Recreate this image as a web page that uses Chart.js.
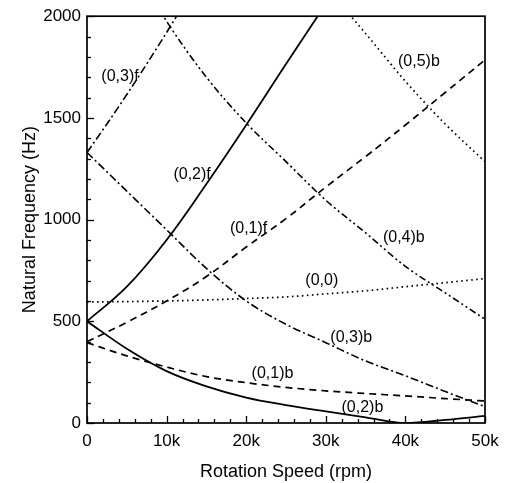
<!DOCTYPE html>
<html>
<head>
<meta charset="utf-8">
<script src="https://cdn.jsdelivr.net/npm/chart.js@4"></script>
<style>
html,body{margin:0;padding:0;background:#fff;}
#wrap{width:508px;height:483px;position:relative;}
</style>
</head>
<body>
<div id="wrap"><canvas id="c" width="508" height="483"></canvas></div>
<script>
// ---- data (rpm, Hz) ----
const rpmFull = [0, 5000, 10000, 15000, 20000, 25000, 30000, 35000, 40000, 45000, 50000];
const f02f_x = [0, 5000, 10000, 15000, 20000, 25000, 30000];
const f02f_y = [500, 670, 900, 1175, 1465, 1765, 2060];
const f02b_y = [500, 365, 255, 180, 125, 88, 57, 28, 0, 15, 35];
const f01f_y = [400, 495, 600, 720, 865, 1005, 1160, 1310, 1465, 1625, 1785];
const f01b_y = [395, 330, 275, 228, 198, 175, 158, 145, 133, 120, 108];
const f00_y  = [595, 597, 600, 605, 612, 620, 635, 650, 670, 690, 710];
const f03b_y = [1330, 1140, 950, 760, 600, 485, 395, 305, 232, 155, 80];
const f03f_x = [0, 2500, 5000, 7500, 10000, 12500];
const f03f_y = [1330, 1470, 1615, 1765, 1920, 2080];
const f04b_x = [7500, 10000, 15000, 20000, 25000, 30000, 35000, 40000, 45000, 50000];
const f04b_y = [2140, 1975, 1700, 1475, 1285, 1095, 935, 770, 640, 510];
const f05b_x = [32500, 35000, 40000, 45000, 50000];
const f05b_y = [2030, 1915, 1680, 1470, 1285];

const xTicks = [0, 10000, 20000, 30000, 40000, 50000];
const yTicks = [0, 500, 1000, 1500, 2000];

// curve labels: text, rpm, Hz
const curveLabelText = ['(0,3)f', '(0,2)f', '(0,1)f', '(0,5)b', '(0,4)b', '(0,0)', '(0,3)b', '(0,1)b', '(0,2)b'];
const curveLabelX    = [4150, 13200, 20300, 41700, 39800, 29500, 33200, 23300, 34600];
const curveLabelY    = [1702, 1222, 958, 1775, 910, 699, 420, 244, 78];

const FONT = "'Liberation Sans', Arial, sans-serif";

function pts(xs, ys){ return xs.map((x,i)=>({x:x, y:ys[i]})); }
function ds(xs, ys, dash, w, mode){
  return { data: pts(xs, ys), borderColor:'#000', borderWidth: w||1.6, borderDash: dash,
           pointRadius:0, fill:false, cubicInterpolationMode: mode || 'monotone', tension:0.4 };
}

const DASH = [7,5], DOT = [1.6,3.4], DASHDOT = [8,3,2,3], DASHDOTDOT = [7,3,2,3,2,3];

const datasets = [
  ds(f02f_x, f02f_y, [], 1.8, 'default'),
  ds(rpmFull, f02b_y, [], 1.8),
  ds(rpmFull, f01f_y, DASH, 1.7, 'default'),
  ds(rpmFull, f01b_y, DASH, 1.7),
  ds(rpmFull, f00_y, DOT, 1.7),
  ds(rpmFull, f03b_y, DASHDOT, 1.6),
  ds(f03f_x, f03f_y, DASHDOT, 1.6),
  ds(f04b_x, f04b_y, DASHDOTDOT, 1.6),
  ds(f05b_x, f05b_y, DOT, 1.7)
];

const decor = {
  id: 'decor',
  afterDatasetsDraw(chart){
    const ctx = chart.ctx, a = chart.chartArea, xs = chart.scales.x, ys = chart.scales.y;
    ctx.save();
    ctx.strokeStyle = '#000';
    ctx.lineWidth = 1.3;
    ctx.setLineDash([]);
    for (let v = 0; v <= 50000; v += 2000) {
      const px = Math.round(xs.getPixelForValue(v)) + 0.5;
      const len = (v % 10000 === 0) ? 7 : 4;
      ctx.beginPath(); ctx.moveTo(px, a.bottom); ctx.lineTo(px, a.bottom - len); ctx.stroke();
    }
    for (let v = 0; v <= 2000; v += 100) {
      const py = Math.round(ys.getPixelForValue(v)) + 0.5;
      const len = (v % 500 === 0) ? 7 : 4;
      ctx.beginPath(); ctx.moveTo(a.left, py); ctx.lineTo(a.left + len, py); ctx.stroke();
    }
    ctx.lineWidth = 1.7;
    ctx.strokeRect(a.left, a.top, a.right - a.left, a.bottom - a.top);
    ctx.fillStyle = '#000';
    ctx.font = '16px ' + FONT;
    ctx.textAlign = 'center';
    ctx.textBaseline = 'middle';
    curveLabelText.forEach((t,i)=>{
      ctx.fillText(t, xs.getPixelForValue(curveLabelX[i]), ys.getPixelForValue(curveLabelY[i]));
    });
    ctx.restore();
  }
};

new Chart(document.getElementById('c'), {
  type: 'line',
  data: { datasets: datasets },
  options: {
    responsive: false,
    animation: false,
    devicePixelRatio: 1,
    layout: { padding: { top: 14, right: 23, left: 0, bottom: 0 } },
    plugins: { legend: { display:false }, tooltip: { enabled:false } },
    scales: {
      x: {
        type: 'linear', min: 0, max: 50000,
        afterFit: s => { s.height = 60; },
        afterBuildTicks: s => { s.ticks = xTicks.map(v => ({value:v})); },
        grid: { display:false, drawTicks:false },
        border: { display:false },
        ticks: { color:'#000', padding: 8, maxRotation:0, font:{ family: FONT, size:17, lineHeight:1.2 },
                 callback: v => v === 0 ? '0' : (v/1000) + 'k' },
        title: { display:true, text:'Rotation Speed (rpm)', color:'#000',
                 font:{ family: FONT, size:18, lineHeight:1.2 }, padding:{ top:2, bottom:0 } }
      },
      y: {
        type: 'linear', min: 0, max: 2000,
        afterFit: s => { s.width = 87; },
        afterBuildTicks: s => { s.ticks = yTicks.map(v => ({value:v})); },
        grid: { display:false, drawTicks:false },
        border: { display:false },
        ticks: { color:'#000', padding: 6, font:{ family: FONT, size:17, lineHeight:1.2 },
                 callback: v => String(v) },
        title: { display:true, text:'Natural Frequency (Hz)', color:'#000',
                 font:{ family: FONT, size:18, lineHeight:1.2 }, padding:{ top:19, bottom:0 } }
      }
    }
  },
  plugins: [decor]
});
</script>
</body>
</html>
